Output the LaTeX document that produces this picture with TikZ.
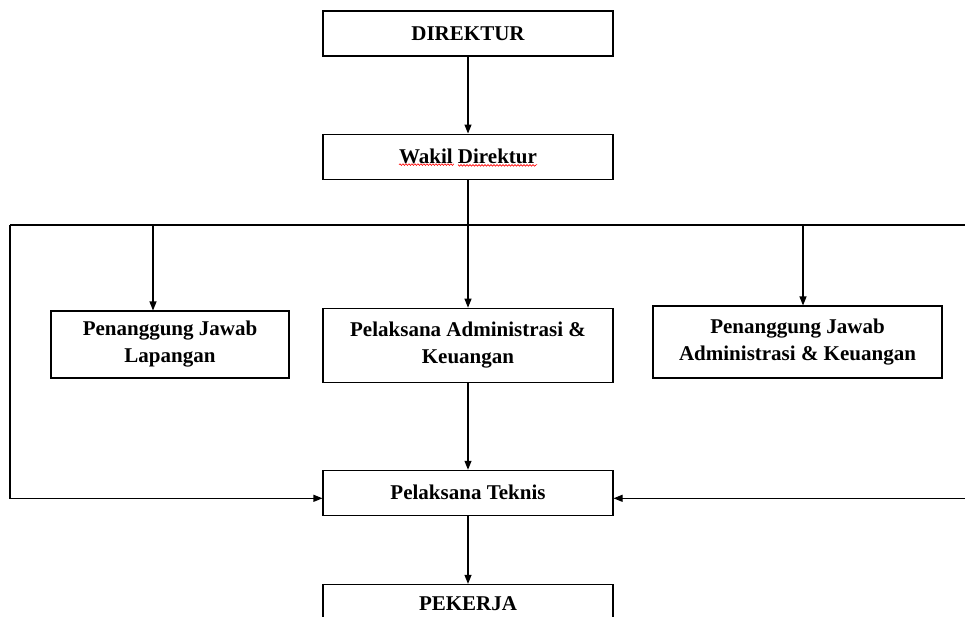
\documentclass[tikz,border=0pt]{standalone}
\usepackage{fontspec}
\setmainfont{Liberation Serif}
\usetikzlibrary{arrows.meta,positioning,calc,decorations.pathmorphing}

\begin{document}
\begin{tikzpicture}[x=1pt,y=-1pt,>={Triangle[length=9pt,width=7pt]},
                    line width=1.1pt,
                    box/.style={draw,rectangle,inner sep=0pt,minimum width=290pt,
                    minimum height=45pt,align=center,
                    font=\fontsize{21}{27}\selectfont\bfseries}]
  \useasboundingbox (0,0) rectangle (965,616);

  \node[box]  (DIR)    at (468,33.5)           {DIREKTUR};
  \node[box]  (WAKIL)  [below=77pt of DIR]     {Wakil Direktur};
  \node[box,minimum height=74pt]  (PADM) [below=128pt of WAKIL]
              {Pelaksana Administrasi \&\\Keuangan};
  \node[box]  (TEKNIS) [below=87pt of PADM]    {Pelaksana Teknis};
  \node[box,text height=14pt,text depth=7pt]  (KERJA)  [below=68pt of TEKNIS]  {PEKERJA};
  \node[box,minimum width=238pt,minimum height=67pt] (PJL)  at (170,344.5)
              {Penanggung Jawab\\Lapangan};
  \node[box,minimum width=289pt,minimum height=72pt] (PJAK) at (797.5,342)
              {Penanggung Jawab\\Administrasi \& Keuangan};

  \coordinate (BL)  at (10,225);
  \coordinate (BR)  at (975,225);
  \coordinate (TL)  at (153,225);
  \coordinate (TR)  at (803,225);
  \coordinate (INL) at ([yshift=-5.5pt]TEKNIS.west);
  \coordinate (INR) at ([yshift=-5.5pt]TEKNIS.east);

  \draw[->] (DIR) -- (WAKIL);
  \draw[->] (WAKIL) -- (PADM);
  \draw (BL) -- (BR);
  \draw[->] (TL) -- (TL |- PJL.north);
  \draw[->] (TR) -- (TR |- PJAK.north);
  \draw[->] (PADM) -- (TEKNIS);
  \draw[->] (TEKNIS) -- (KERJA);
  \draw[->] (BL) |- (INL);
  \draw[->] (BR) |- (INR);

  \draw[red,line width=0.6pt,decorate,decoration={snake,amplitude=0.8pt,segment length=3pt}]
    ($(WAKIL.center)+(-69,8)$) -- ($(WAKIL.center)+(-15,8)$)
    ($(WAKIL.center)+(-10,8)$) -- ($(WAKIL.center)+(69,8)$);
\end{tikzpicture}
\end{document}
